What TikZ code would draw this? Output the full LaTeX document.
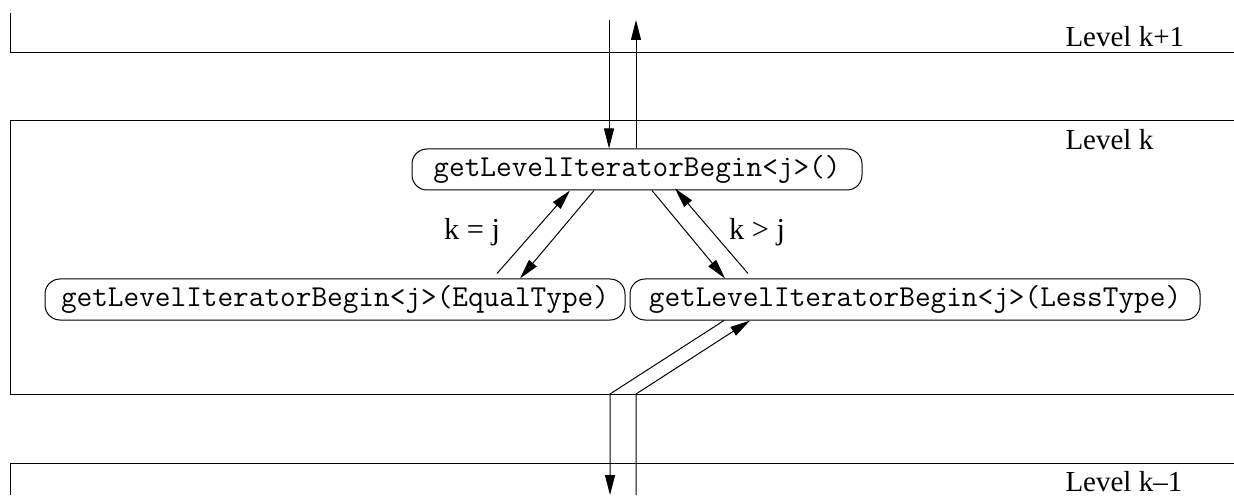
\documentclass[tikz,border=0pt]{standalone}
\usepackage{fontspec}
\setmainfont{Liberation Serif}
\usetikzlibrary{arrows.meta,calc}

\begin{document}
\begin{tikzpicture}[x=0.5pt,y=-0.5pt,line width=0.5pt,
  call/.style={draw,rounded corners=7.5pt,minimum height=20.5pt,inner sep=2pt,
    font=\fontsize{15.2}{17}\selectfont\ttfamily},
  lvl/.style={anchor=west,inner sep=0pt,font=\fontsize{14.5}{17}\selectfont},
  cond/.style={font=\fontsize{15.2}{17}\selectfont},
  flow/.style={-{Triangle[length=10pt,width=5pt]}}]
  \useasboundingbox (0,0) rectangle (1234,496);
  % level bands
  \draw (10,13) -- (10,53) -- (1234,53);
  \draw (1234,121) -- (10,121) -- (10,394) -- (1234,394);
  \draw (10,495) -- (10,463) -- (1234,463);
  \coordinate (kbot) at (0,394);
  \node[lvl] (lvlup) at (1065,37) {Level k+1};
  \node[lvl] (lvlk) at (1065,140) {Level k};
  \node[lvl] (lvldown) at (1065,482) {Level k--1};
  % calls on level k
  \node[call,minimum width=225pt] (top) at (637,169.5) {getLevelIteratorBegin<j>()};
  \node[call,minimum width=290pt] (eq) at (335,299.5) {getLevelIteratorBegin<j>(EqualType)};
  \node[call,minimum width=285pt] (less) at (915,299.5) {getLevelIteratorBegin<j>(LessType)};
  \node[cond] (eqlab) at (472,232) {k = j};
  \node[cond] (gtlab) at (757,232) {k > j};
  % free ends above and below
  \coordinate (inTop) at (609,20);
  \coordinate (outTop) at (636,20);
  \coordinate (inBot) at (610,495);
  \coordinate (outBot) at (636,495);
  % arrows
  \draw[flow] (inTop) -- ($(top.north)+(-28,0)$);
  \draw[flow] ($(top.north)+(-1,0)$) -- (outTop);
  \draw[flow] ($(eq.north)+(162,-5)$) -- ($(top.south)+(-67,0)$);
  \draw[flow] ($(top.south)+(-43,0)$) -- ($(eq.north)+(185,0)$);
  \draw[flow] ($(top.south)+(15,0)$) -- ($(less.north)+(-190,0)$);
  \draw[flow] ($(less.north)+(-167,-5)$) -- ($(top.south)+(38,-2)$);
  \draw[flow] ($(less.south)+(-191,0)$) -- (inBot |- kbot) -- (inBot);
  \draw[flow] (outBot) -- (outBot |- kbot) -- ($(less.south)+(-165,0)$);
\end{tikzpicture}
\end{document}
